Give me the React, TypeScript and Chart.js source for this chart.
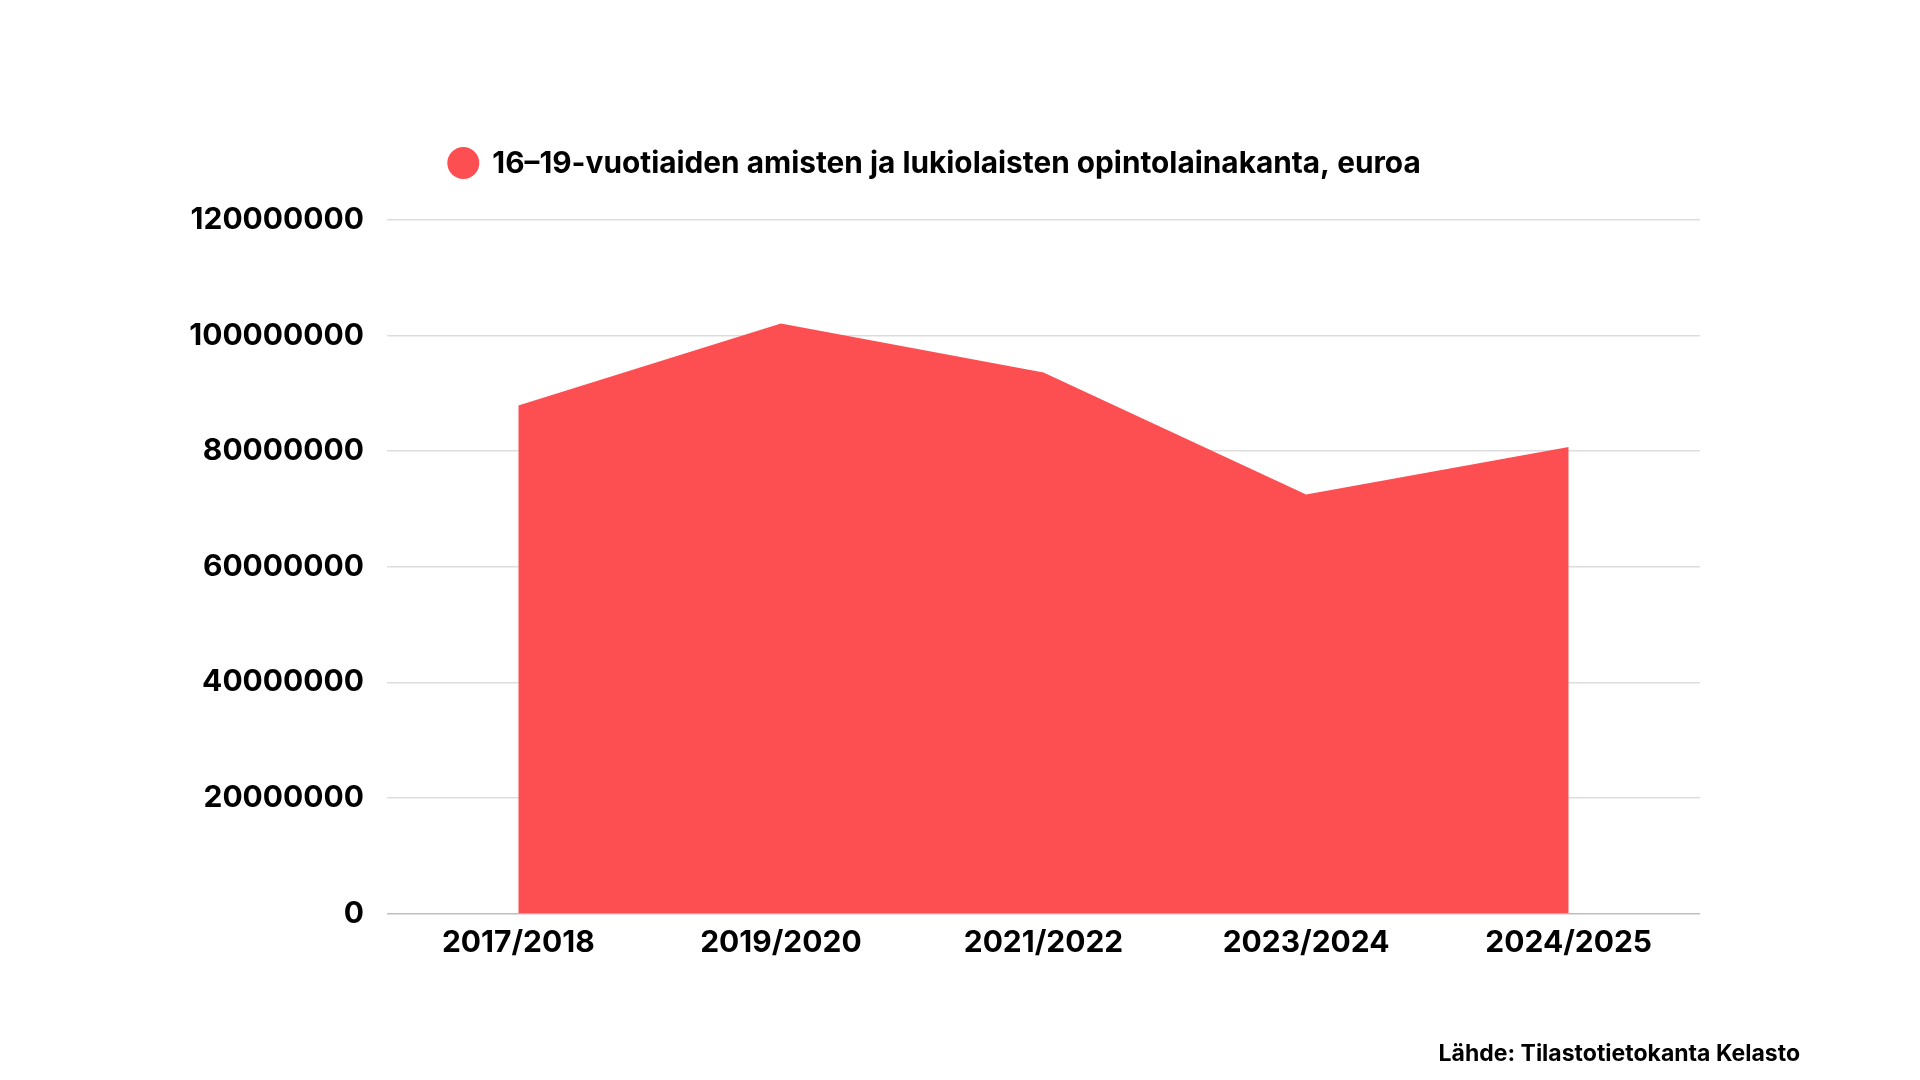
import React, { useEffect, useRef } from 'react';
import { Chart, registerables } from 'chart.js';

Chart.register(...registerables);

const categories = ['2017/2018', '2019/2020', '2021/2022', '2023/2024', '2024/2025'];
const loanStock = [87900000, 102100000, 93600000, 72500000, 80700000];
const seriesLabel = '16–19-vuotiaiden amisten ja lukiolaisten opintolainakanta, euroa';
const sourceText = 'Lähde: Tilastotietokanta Kelasto';
const yMin = 0;
const yMax = 120000000;
const yStep = 20000000;

const FONT = 'Inter, "Noto Sans", sans-serif';
const FILL = '#fd4e52';

const legendAndSource = {
  id: 'legendAndSource',
  afterDraw(chart: any) {
    const ctx = chart.ctx as CanvasRenderingContext2D;
    const ds = chart.data.datasets[0];
    ctx.save();
    ctx.font = `700 29.8px ${FONT}`;
    const textW = ctx.measureText(ds.label).width;
    const r = 16;
    const gap = 13;
    const total = 2 * r + gap + textW;
    const centerX = 934;
    const x0 = centerX - total / 2;
    const cy = 163;
    ctx.fillStyle = ds.backgroundColor;
    ctx.beginPath();
    ctx.arc(x0 + r, cy, r, 0, Math.PI * 2);
    ctx.fill();
    ctx.fillStyle = '#000000';
    ctx.textAlign = 'left';
    ctx.textBaseline = 'alphabetic';
    ctx.fillText(ds.label, x0 + 2 * r + gap, 173);

    ctx.font = `700 23px ${FONT}`;
    ctx.textAlign = 'right';
    ctx.fillText(sourceText, 1800, 1061);
    ctx.restore();
  },
};

export default function App() {
  const canvasRef = useRef<HTMLCanvasElement | null>(null);

  useEffect(() => {
    const canvas = canvasRef.current;
    if (!canvas) return;
    const chart = new Chart(canvas, {
      type: 'line',
      data: {
        labels: categories,
        datasets: [
          {
            label: seriesLabel,
            data: loanStock,
            backgroundColor: FILL,
            borderColor: FILL,
            borderWidth: 0,
            pointRadius: 0,
            pointHoverRadius: 0,
            fill: 'origin',
            tension: 0,
          },
        ],
      },
      options: {
        animation: false,
        responsive: true,
        maintainAspectRatio: false,
        layout: { padding: { left: 0, right: 220, top: 220, bottom: 100 } },
        plugins: {
          legend: { display: false },
          tooltip: { enabled: false },
        },
        scales: {
          x: {
            offset: true,
            grid: { display: false, drawTicks: false },
            border: { display: false },
            ticks: {
              color: '#000000',
              padding: 11,
              font: { family: FONT, size: 30, weight: 'bold' },
              maxRotation: 0,
            },
            afterFit(scale: any) {
              scale.height = 66.5;
            },
          },
          y: {
            min: yMin,
            max: yMax,
            grid: {
              drawTicks: false,
              lineWidth: 1.5,
              color: (c: any) => (c.tick && c.tick.value === 0 ? '#bdbdbd' : '#dddddd'),
            },
            border: { display: false },
            ticks: {
              stepSize: yStep,
              color: '#000000',
              padding: 23,
              font: { family: FONT, size: 30, weight: 'bold' },
              callback: (v: any) => String(v),
            },
            afterFit(scale: any) {
              scale.width = 387;
            },
          },
        },
      },
      plugins: [legendAndSource],
    });
    return () => chart.destroy();
  }, []);

  return (
    <div
      style={{
        position: 'fixed',
        left: 0,
        top: 0,
        width: 1920,
        height: 1080,
        background: '#ffffff',
      }}
    >
      <canvas ref={canvasRef} />
    </div>
  );
}
